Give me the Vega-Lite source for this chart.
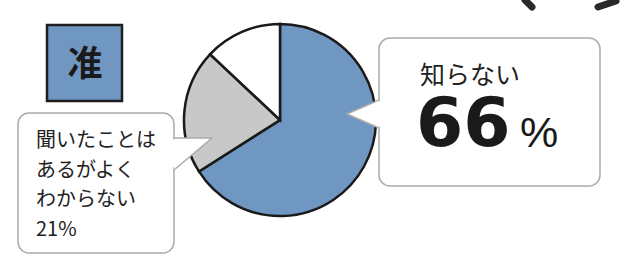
{
  "$schema": "https://vega.github.io/schema/vega-lite/v6.json",
  "width": 621,
  "height": 259,
  "autosize": "none",
  "padding": 0,
  "background": "white",
  "config": {"view": {"stroke": null}, "font": "Noto Sans CJK JP"},
  "datasets": {
    "survey": [
      {"category": "知らない", "value": 66},
      {"category": "聞いたことはあるがよくわからない", "value": 21},
      {"category": "その他", "value": 13}
    ],
    "boxes": [
      {"box": "left", "x": 18, "x2": 174, "y": 113, "y2": 253},
      {"box": "right", "x": 379, "x2": 600, "y": 38, "y2": 186}
    ],
    "pointers": [
      {"box": "left", "i": 0, "x": 174, "y": 138},
      {"box": "left", "i": 1, "x": 212, "y": 138},
      {"box": "left", "i": 2, "x": 174, "y": 170},
      {"box": "right", "i": 0, "x": 379, "y": 100},
      {"box": "right", "i": 1, "x": 347, "y": 114},
      {"box": "right", "i": 2, "x": 379, "y": 128}
    ],
    "covers": [
      {"box": "left", "x": 172, "x2": 176, "y": 139.5, "y2": 167},
      {"box": "right", "x": 377, "x2": 381, "y": 101.5, "y2": 126.5}
    ],
    "strokes": [
      {"s": "a", "i": 0, "x": 525, "y": 0},
      {"s": "a", "i": 1, "x": 532, "y": 7},
      {"s": "b", "i": 0, "x": 616, "y": 1},
      {"s": "b", "i": 1, "x": 598, "y": 7}
    ]
  },
  "layer": [
    {
      "data": {"name": "survey"},
      "mark": {"type": "arc", "radius": 96, "stroke": "#1a1a1a", "strokeWidth": 2.5},
      "encoding": {
        "theta": {"field": "value", "type": "quantitative", "stack": true},
        "order": {"field": "value", "sort": "descending"},
        "color": {
          "field": "category",
          "type": "nominal",
          "scale": {"domain": ["知らない", "聞いたことはあるがよくわからない", "その他"], "range": ["#7096c2", "#c8c8c8", "#ffffff"]},
          "legend": null
        },
        "x": {"datum": 280, "type": "quantitative", "scale": {"domain": [0, 621], "nice": false, "zero": false}, "axis": null},
        "y": {"datum": 120, "type": "quantitative", "scale": {"domain": [0, 259], "reverse": true, "nice": false, "zero": false}, "axis": null}
      }
    },
    {
      "data": {"name": "boxes"},
      "mark": {"type": "rect", "fill": "white", "stroke": "#ababab", "strokeWidth": 1.5, "cornerRadius": 11},
      "encoding": {
        "x": {"field": "x", "type": "quantitative", "scale": {"domain": [0, 621], "nice": false, "zero": false}, "axis": null},
        "x2": {"field": "x2"},
        "y": {"field": "y", "type": "quantitative", "scale": {"domain": [0, 259], "reverse": true, "nice": false, "zero": false}, "axis": null},
        "y2": {"field": "y2"}
      }
    },
    {
      "data": {"name": "pointers"},
      "mark": {"type": "line", "fill": "white", "stroke": "#ababab", "strokeWidth": 1.5, "strokeJoin": "miter"},
      "encoding": {
        "x": {"field": "x", "type": "quantitative", "scale": {"domain": [0, 621], "nice": false, "zero": false}, "axis": null},
        "y": {"field": "y", "type": "quantitative", "scale": {"domain": [0, 259], "reverse": true, "nice": false, "zero": false}, "axis": null},
        "detail": {"field": "box"},
        "order": {"field": "i"}
      }
    },
    {
      "data": {"name": "covers"},
      "mark": {"type": "rect", "fill": "white", "strokeWidth": 0},
      "encoding": {
        "x": {"field": "x", "type": "quantitative"},
        "x2": {"field": "x2"},
        "y": {"field": "y", "type": "quantitative"},
        "y2": {"field": "y2"}
      }
    },
    {
      "data": {"name": "strokes"},
      "mark": {"type": "line", "stroke": "#2a2a2a", "strokeWidth": 7, "strokeCap": "round"},
      "encoding": {
        "x": {"field": "x", "type": "quantitative"},
        "y": {"field": "y", "type": "quantitative"},
        "detail": {"field": "s"},
        "order": {"field": "i"}
      }
    },
    {
      "data": {"values": [{"label": "准"}]},
      "mark": {"type": "rect", "fill": "#7096c2", "stroke": "#1e1e1e", "strokeWidth": 2.5},
      "encoding": {
        "x": {"datum": 47, "type": "quantitative"},
        "x2": {"datum": 122},
        "y": {"datum": 25, "type": "quantitative"},
        "y2": {"datum": 101}
      }
    },
    {
      "data": {"values": [{"label": "准"}]},
      "mark": {"type": "text", "font": "Noto Sans CJK JP", "fontWeight": "bold", "fontSize": 35, "color": "#1a1a1a", "align": "center", "baseline": "alphabetic"},
      "encoding": {
        "text": {"field": "label"},
        "x": {"datum": 85, "type": "quantitative"},
        "y": {"datum": 76, "type": "quantitative"}
      }
    },
    {
      "data": {"name": "survey"},
      "transform": [{"filter": "datum.value == 21"}],
      "mark": {"type": "text", "font": "Noto Sans CJK JP", "fontSize": 20, "color": "#222222", "align": "left", "baseline": "alphabetic", "lineHeight": 29.7},
      "encoding": {
        "text": {"value": ["聞いたことは", "あるがよく", "わからない", "21%"]},
        "x": {"datum": 36, "type": "quantitative"},
        "y": {"datum": 147, "type": "quantitative"}
      }
    },
    {
      "data": {"name": "survey"},
      "transform": [{"filter": "datum.value == 66"}],
      "mark": {"type": "text", "font": "Noto Sans CJK JP", "fontSize": 25, "color": "#222222", "align": "left", "baseline": "alphabetic"},
      "encoding": {
        "text": {"field": "category"},
        "x": {"datum": 420, "type": "quantitative"},
        "y": {"datum": 84, "type": "quantitative"}
      }
    },
    {
      "data": {"name": "survey"},
      "transform": [{"filter": "datum.value == 66"}],
      "mark": {"type": "text", "font": "DejaVu Sans", "fontWeight": "bold", "fontSize": 68, "color": "#1a1a1a", "align": "left", "baseline": "alphabetic"},
      "encoding": {
        "text": {"field": "value", "type": "quantitative", "format": "d"},
        "x": {"datum": 416, "type": "quantitative"},
        "y": {"datum": 146, "type": "quantitative"}
      }
    },
    {
      "data": {"name": "survey"},
      "transform": [{"filter": "datum.value == 66"}],
      "mark": {"type": "text", "font": "Liberation Sans", "fontSize": 43, "color": "#1a1a1a", "align": "left", "baseline": "alphabetic"},
      "encoding": {
        "text": {"value": "%"},
        "x": {"datum": 520, "type": "quantitative"},
        "y": {"datum": 147, "type": "quantitative"}
      }
    }
  ]
}
